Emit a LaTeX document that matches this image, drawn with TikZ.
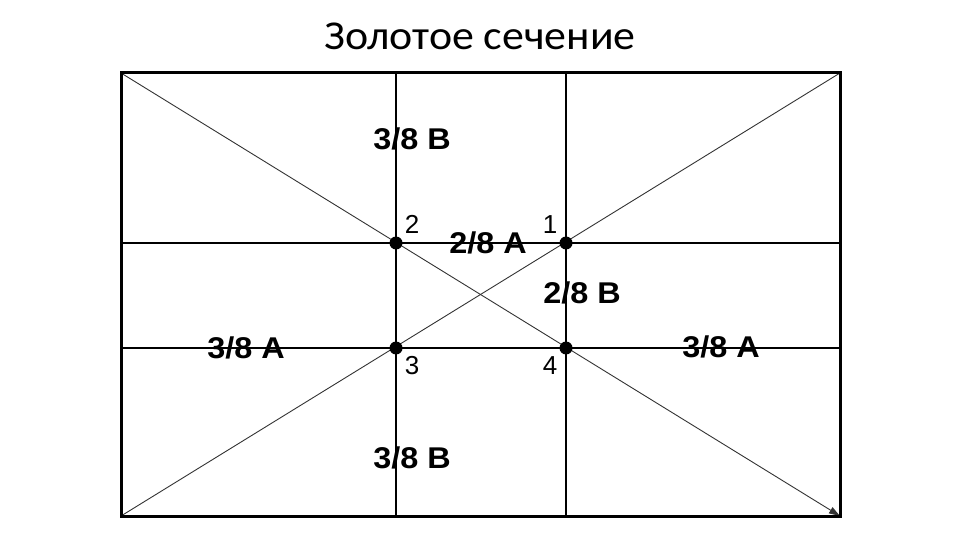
\documentclass[tikz,border=0pt]{standalone}
\usepackage{fontspec}
\setmainfont{Liberation Sans}
\newfontfamily\lblfont{Liberation Sans Bold}[FakeStretch=1.08]
\newfontfamily\titlefont{Carlito}[FakeStretch=1.07]
\usetikzlibrary{arrows.meta}
\tikzset{
  frame/.style={line width=3bp, black},
  gridline/.style={line width=2bp, black},
  diag/.style={line width=0.9bp, black!80},
  dot/.style={circle, fill=black, inner sep=0pt, minimum size=13bp},
  biglbl/.style={inner sep=0pt, font=\lblfont\fontsize{30bp}{34bp}\selectfont},
  numlbl/.style={inner sep=0pt, font=\fontsize{26bp}{28bp}\selectfont},
  ttl/.style={inner sep=0pt, font=\titlefont\fontsize{41bp}{46bp}\selectfont}
}
\begin{document}
\begin{tikzpicture}[x=1bp, y=-1bp]
\useasboundingbox (0,0) rectangle (960,540);
% corners
\coordinate (TL) at (121,73);
\coordinate (TR) at (840,73);
\coordinate (BL) at (121,516);
\coordinate (BR) at (840,516);
% grid line ends
\coordinate (v1t) at (396,73);
\coordinate (v1b) at (396,516);
\coordinate (v2t) at (566,73);
\coordinate (v2b) at (566,516);
\coordinate (h1l) at (121,243);
\coordinate (h1r) at (840,243);
\coordinate (h2l) at (121,348);
\coordinate (h2r) at (840,348);
% diagonals
\draw[diag, -{Triangle[length=11bp,width=7bp]}] (TL) -- (BR);
\draw[diag] (BL) -- (TR);
% grid
\draw[gridline] (v1t) -- (v1b);
\draw[gridline] (v2t) -- (v2b);
\draw[gridline] (h1l) -- (h1r);
\draw[gridline] (h2l) -- (h2r);
% frame
\draw[frame] (TL) rectangle (BR);
% dots
\node[dot] (p1) at (566,243) {};
\node[dot] (p2) at (396,243) {};
\node[dot] (p3) at (396,348) {};
\node[dot] (p4) at (566,348) {};
% numbers
\node[numlbl] (n1) at (550,225) {1};
\node[numlbl] (n2) at (412,224) {2};
\node[numlbl] (n3) at (412,366) {3};
\node[numlbl] (n4) at (550,366) {4};
% labels
\node[biglbl] (bt) at (412,139) {3/8 B};
\node[biglbl] (bb) at (412,458) {3/8 B};
\node[biglbl] (al) at (246,348) {3/8 A};
\node[biglbl] (ar) at (721,347) {3/8 A};
\node[biglbl] (a2) at (488,243) {2/8 A};
\node[biglbl] (b2) at (582,293) {2/8 B};
% title
\node[ttl, anchor=base] (title) at (480,50) {Золотое сечение};
\end{tikzpicture}
\end{document}
